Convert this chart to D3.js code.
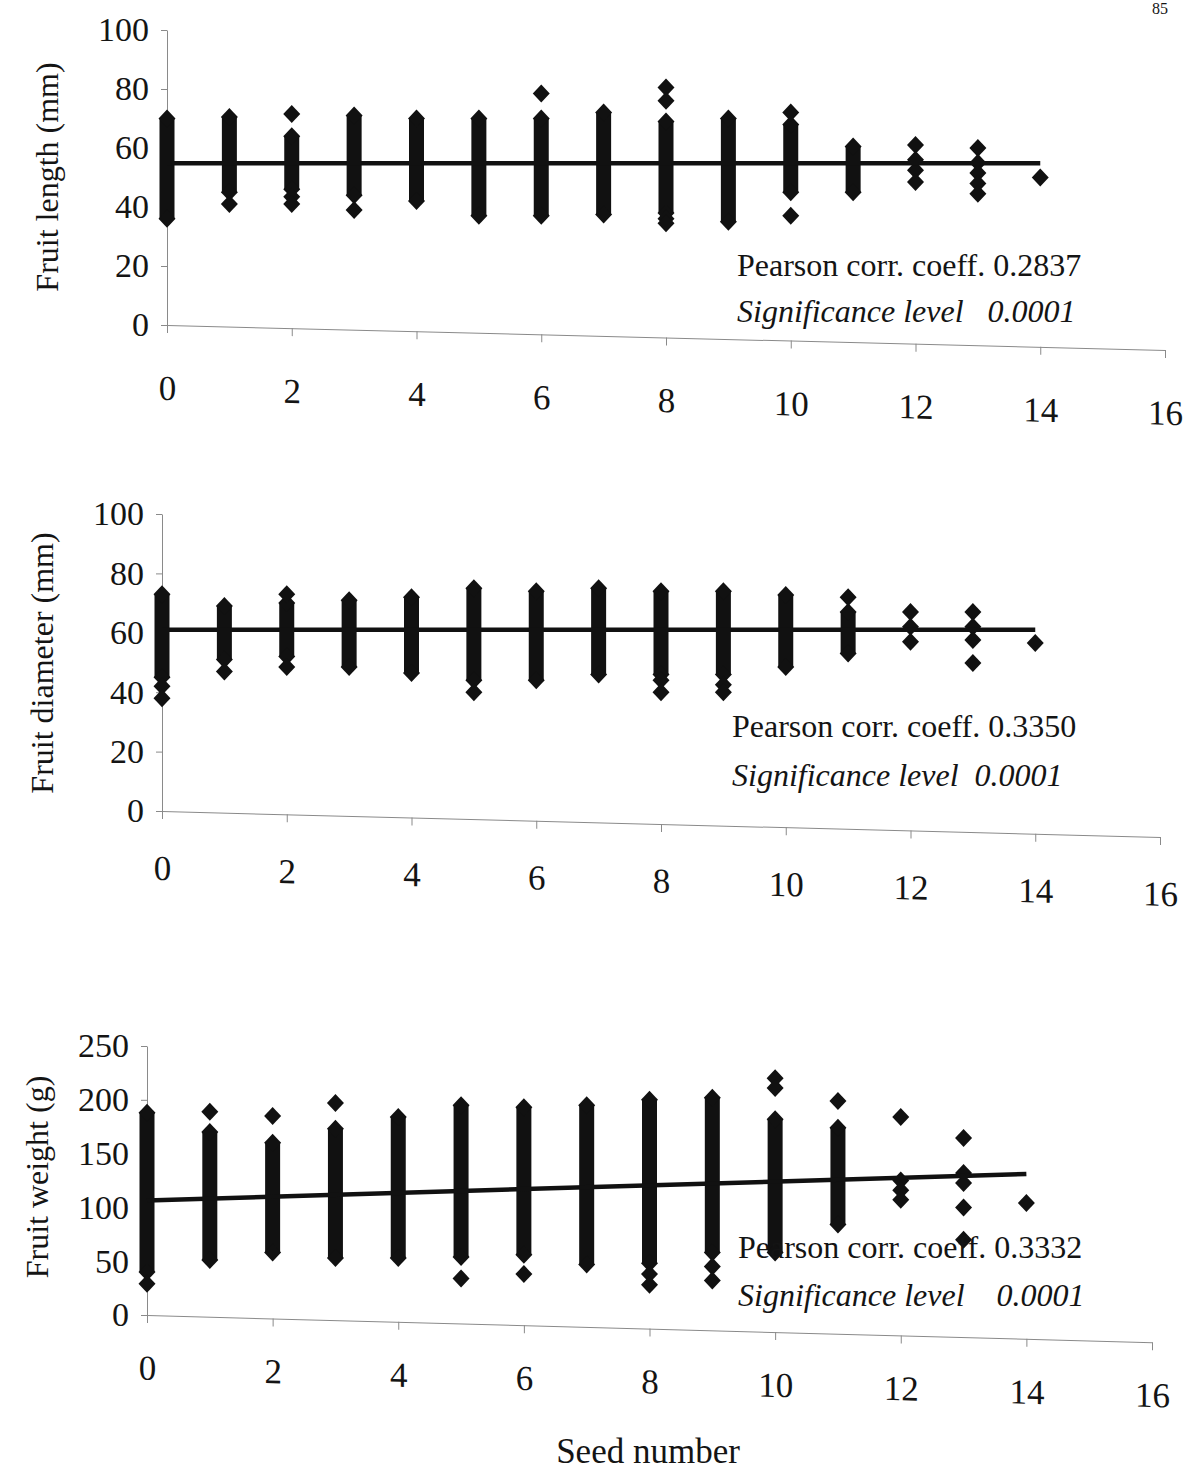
<!DOCTYPE html>
<html>
<head>
<meta charset="utf-8">
<script src="https://cdn.jsdelivr.net/npm/d3@7"></script>
<style>
  body { margin: 0; background: #fff; }
  svg text { font-family: "Liberation Serif", "Times New Roman", serif; fill: #141414; }
</style>
</head>
<body>
<svg id="chart" width="1199" height="1475"></svg>
<script>
// ---------- data ----------
const seeds = [0, 1, 2, 3, 4, 5, 6, 7, 8, 9, 10, 11, 12, 13, 14];
const xTickValues = [0, 2, 4, 6, 8, 10, 12, 14, 16];
const yTicksMM = [0, 20, 40, 60, 80, 100];
const yTicksWeight = [0, 50, 100, 150, 200, 250];

// Fruit length (mm): dense band of points per seed number (low / high) + separate points
const lengthBandLo = [36, 45, 46, 44, 42, 37, 37, 37.5, 38, 35, 45, 45, null, null, null];
const lengthBandHi = [70, 70.5, 64, 71, 70, 70, 70, 72, 69, 70, 68, 60.5, null, null, null];
const lengthPointSeed  = [1, 2, 2, 2, 3, 6, 8, 8, 8, 8, 10, 10, 12, 12, 12, 12, 13, 13, 13, 13, 13, 14];
const lengthPointValue = [41, 71.5, 43.5, 41, 39, 78.5, 80.5, 76, 36, 34.5, 72, 37, 61, 56, 52.5, 48.5, 60, 55, 51.5, 48, 44.5, 50];
const lengthFit = [54.8, 54.8];          // trend line at seed 0 and seed 14
const lengthStats = ["Pearson corr. coeff. 0.2837", "Significance level   0.0001"];

// Fruit diameter (mm)
const diamBandLo = [45, 51, 52, 48.5, 46.5, 44, 44, 46, 46, 46, 48.5, 53, null, null, null];
const diamBandHi = [73, 69, 70, 71, 72, 75, 74, 75, 74, 74, 72.7, 67, null, null, null];
const diamPointSeed  = [0, 0, 1, 2, 2, 5, 8, 8, 9, 9, 11, 12, 12, 12, 13, 13, 13, 13, 14];
const diamPointValue = [42, 38, 47, 73, 48.5, 40, 44, 40, 42.5, 40, 72, 67, 62, 57, 67, 62, 57.6, 49.8, 56.6];
const diamFit = [61, 61];
const diamStats = ["Pearson corr. coeff. 0.3350", "Significance level  0.0001"];

// Fruit weight (g)
const weightBandLo = [40, 51, 58, 53, 53, 54, 56, 47, 48, 58, 58, 84, null, null, null];
const weightBandHi = [188, 170, 160, 173, 184, 195, 193, 195, 200, 202, 182, 174, null, null, null];
const weightPointSeed  = [0, 1, 2, 3, 5, 6, 8, 8, 9, 9, 10, 10, 11, 12, 12, 12, 12, 13, 13, 13, 13, 13, 14];
const weightPointValue = [29, 189, 185, 197, 34, 38, 38, 28, 45, 32, 220, 211, 199, 184, 125, 116, 107, 164.5, 132, 122.7, 100, 70, 104];
const weightFit = [106.5, 131];
const weightStats = ["Pearson corr. coeff. 0.3332", "Significance level    0.0001"];

const yTitles = ["Fruit length (mm)", "Fruit diameter (mm)", "Fruit weight (g)"];
const xTitle = "Seed number";
const pageNumber = "85";

// ---------- drawing ----------
const svg = d3.select("#chart");

// diamond marker (slightly taller than wide)
const diamondType = {
  draw(ctx, size) {
    const w = 8.5, h = 9;
    ctx.moveTo(0, -h); ctx.lineTo(w, 0); ctx.lineTo(0, h); ctx.lineTo(-w, 0); ctx.closePath();
  }
};
const diamond = d3.symbol().type(diamondType);

function panel(o) {
  const g = svg.append("g");
  const x = d3.scaleLinear().domain([0, 16]).range([o.x0, o.x1]);
  const y = d3.scaleLinear().domain([0, o.ymax]).range([o.y0, o.y1]);

  // y axis
  const ya = g.append("g")
    .attr("transform", `translate(${o.x0},0)`)
    .call(d3.axisLeft(y).tickValues(o.yTicks).tickSizeInner(6).tickSizeOuter(0).tickPadding(12));
  ya.select(".domain").attr("stroke", "#8a8a8a");
  ya.selectAll(".tick line").attr("stroke", "#8a8a8a");
  ya.selectAll(".tick text").attr("font-size", 34).attr("font-family", "Liberation Serif").attr("fill", "#141414");

  // x axis (page slightly skewed in the scan)
  const xa = g.append("g")
    .attr("transform", `translate(${o.x0},${o.y0}) skewY(${o.skew}) translate(${-o.x0},0)`)
    .call(d3.axisBottom(x).tickValues(xTickValues).tickSizeInner(8).tickSizeOuter(0).tickPadding(o.xPad));
  xa.select(".domain").attr("stroke", "#8a8a8a");
  xa.selectAll(".tick line").attr("stroke", "#8a8a8a");
  xa.selectAll(".tick text").attr("font-size", 35).attr("font-family", "Liberation Serif").attr("fill", "#141414");

  // dense bands
  const bands = seeds.map((s, i) => ({ s, lo: o.lo[i], hi: o.hi[i] })).filter(d => d.lo != null);
  g.append("g").selectAll("rect").data(bands).join("rect")
    .attr("x", d => x(d.s) - 7.5)
    .attr("width", 15)
    .attr("y", d => y(d.hi))
    .attr("height", d => y(d.lo) - y(d.hi))
    .attr("fill", "#111");
  const ends = bands.flatMap(d => [{ s: d.s, v: d.lo }, { s: d.s, v: d.hi }]);
  const pts = o.pSeed.map((s, i) => ({ s, v: o.pVal[i] }));
  g.append("g").selectAll("path").data(ends.concat(pts)).join("path")
    .attr("d", diamond())
    .attr("transform", d => `translate(${x(d.s)},${y(d.v)})`)
    .attr("fill", "#111");

  // trend line
  g.append("line")
    .attr("x1", x(seeds[0])).attr("y1", y(o.fit[0]))
    .attr("x2", x(seeds[seeds.length - 1])).attr("y2", y(o.fit[1]))
    .attr("stroke", "#111").attr("stroke-width", 4.5);

  // y title
  g.append("text")
    .attr("transform", `translate(${o.titleX},${o.titleY}) rotate(-90)`)
    .attr("text-anchor", "middle")
    .attr("font-size", 32)
    .text(o.title);

  // stats
  g.append("text").attr("x", o.statX).attr("y", o.statY1).attr("font-size", 32).text(o.stats[0]);
  g.append("text").attr("x", o.statX).attr("y", o.statY2).attr("font-size", 32)
    .attr("font-style", "italic").style("white-space", "pre").text(o.stats[1]);
}

panel({
  x0: 167, x1: 1165, y0: 325, y1: 30, ymax: 100, yTicks: yTicksMM, skew: 1.43, xPad: 42,
  lo: lengthBandLo, hi: lengthBandHi, pSeed: lengthPointSeed, pVal: lengthPointValue, fit: lengthFit,
  title: yTitles[0], titleX: 58, titleY: 177,
  stats: lengthStats, statX: 737, statY1: 276, statY2: 322
});
panel({
  x0: 162, x1: 1160, y0: 811, y1: 514, ymax: 100, yTicks: yTicksMM, skew: 1.49, xPad: 36,
  lo: diamBandLo, hi: diamBandHi, pSeed: diamPointSeed, pVal: diamPointValue, fit: diamFit,
  title: yTitles[1], titleX: 53, titleY: 663,
  stats: diamStats, statX: 732, statY1: 737, statY2: 786
});
panel({
  x0: 147, x1: 1152, y0: 1315, y1: 1046, ymax: 250, yTicks: yTicksWeight, skew: 1.55, xPad: 32,
  lo: weightBandLo, hi: weightBandHi, pSeed: weightPointSeed, pVal: weightPointValue, fit: weightFit,
  title: yTitles[2], titleX: 48, titleY: 1177,
  stats: weightStats, statX: 738, statY1: 1258, statY2: 1306
});

svg.append("text").attr("x", 648).attr("y", 1463).attr("text-anchor", "middle")
  .attr("font-size", 35).text(xTitle);

// page number at the top edge of the scan (kept fully visible, small and light)
svg.append("text").attr("x", 1160).attr("y", 14).attr("text-anchor", "middle")
  .attr("font-size", 16).attr("fill", "#777").text(pageNumber);
</script>
</body>
</html>
